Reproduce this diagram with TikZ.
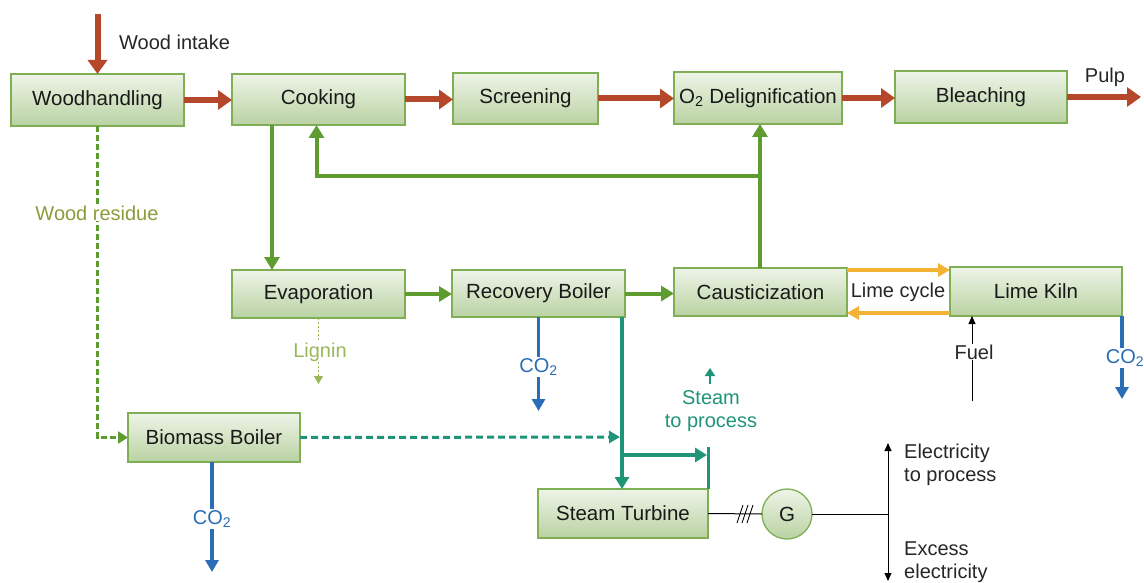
\documentclass[tikz,border=0pt]{standalone}
\usepackage{fontspec}
\setmainfont{Liberation Sans}
\usetikzlibrary{arrows.meta,calc}
\definecolor{brn}{HTML}{B5482B}
\definecolor{grn}{HTML}{5E9C2F}
\definecolor{tl}{HTML}{1F9479}
\definecolor{blu}{HTML}{2A6EB5}
\definecolor{yel}{HTML}{F2B234}
\definecolor{bord}{HTML}{7FAE55}
\definecolor{btop}{HTML}{EEF4E8}
\definecolor{bbot}{HTML}{B9D2A2}
\definecolor{olive}{HTML}{8F9A3A}
\definecolor{ligc}{HTML}{9AB85A}
\tikzset{
  x=1pt, y=-1pt,
  proc/.style={draw=bord, line width=1.3pt, top color=btop, bottom color=bbot,
    inner sep=0pt, outer sep=0pt, font=\fontsize{20.5}{22}\selectfont, text=black!90},
  lbl/.style={font=\fontsize{20}{23}\selectfont, inner sep=1pt},
  brnarrow/.style={draw=brn, line width=6pt, -{Triangle[length=14pt,width=19pt]}},
  grnarrow/.style={draw=grn, line width=4pt, -{Triangle[length=13pt,width=15pt]}},
  tlarrow/.style={draw=tl, line width=3.2pt, -{Triangle[length=12pt,width=14pt]}},
  bluarrow/.style={draw=blu, line width=3.5pt, -{Triangle[length=12pt,width=13pt]}},
  yelarrow/.style={draw=yel, line width=4pt, -{Triangle[length=12pt,width=13pt]}},
  elarrow/.style={draw=black, line width=0.9pt, -{Triangle[length=8pt,width=7pt]}},
}
\begin{document}
\begin{tikzpicture}
\useasboundingbox (0,0) rectangle (1144,583);
% process boxes
\node[proc, minimum width=173, minimum height=52] (wh) at (97.5,100) {Woodhandling};
\node[proc, minimum width=173, minimum height=51] (cook) at (318.5,99.5) {Cooking};
\node[proc, minimum width=145, minimum height=51] (scr) at (525.5,98.5) {Screening};
\node[proc, minimum width=168, minimum height=52] (o2) at (758,98) {O\textsubscript{2} Delignification};
\node[proc, minimum width=172, minimum height=52] (bl) at (981,97) {Bleaching};
\node[proc, minimum width=173, minimum height=48] (evap) at (318.5,294) {Evaporation};
\node[proc, minimum width=173, minimum height=47] (rec) at (538.5,293.5) {Recovery Boiler};
\node[proc, minimum width=173, minimum height=48] (caus) at (760.5,292) {Causticization};
\node[proc, minimum width=172, minimum height=49] (lk) at (1036,291.5) {Lime Kiln};
\node[proc, minimum width=172, minimum height=49] (bio) at (214,437.5) {Biomass Boiler};
\node[proc, minimum width=170, minimum height=49] (st) at (623,513.5) {Steam Turbine};
\node[proc, circle, minimum size=50] (G) at (787,514) {G};

% main pulp line
\coordinate (wi) at (97.5,14);
\coordinate (pulpend) at (1141,97);
\draw[brnarrow] (wi) -- (wi |- wh.north);
\node[lbl, anchor=west, text=black!85] (wil) at (118,42) {Wood intake};
\draw[brnarrow] (wh.east) -- (wh.east -| cook.west);
\draw[brnarrow] (cook.east) -- (cook.east -| scr.west);
\draw[brnarrow] (scr.east) -- (scr.east -| o2.west);
\draw[brnarrow] (o2.east) -- (o2.east -| bl.west);
\draw[brnarrow] (bl.east) -- (pulpend);
\node[lbl, text=black!85] (pulp) at (1105,77) {Pulp};

% green liquor lines
\draw[grnarrow] ($(cook.south west)+(40,0)$) -- ($(evap.north west)+(40,0)$);
\coordinate (fb) at (760,176);
\draw[grnarrow] (caus.north -| fb) -- (o2.south -| fb);
\draw[grnarrow] (fb) -| ($(cook.south)+(-2,0)$);
\draw[grnarrow] (evap.east) -- (evap.east -| rec.west);
\draw[grnarrow] (rec.east) -- (rec.east -| caus.west);

% lime cycle
\draw[yelarrow] ($(caus.north east)+(0,2)$) -- ($(caus.north east -| lk.west)+(0,2)$);
\draw[yelarrow] ($(lk.south west)+(0,-3)$) -- ($(lk.south west -| caus.east)+(0,-3)$);
\node[lbl, text=black!85] (lc) at (898,292) {Lime cycle};

% lignin
\coordinate (ligend) at (318.5,384);
\draw[draw=ligc, line width=1.2pt, dash pattern=on 2pt off 2pt, -{Triangle[length=8pt,width=9pt]}] (evap.south) -- (ligend);
\node[lbl, fill=white, text=ligc] (lig) at (320,352) {Lignin};

% CO2 outputs
\coordinate (co2a) at (538.5,411);
\draw[bluarrow] (rec.south) -- (co2a);
\node[lbl, fill=white, text=blu] at (538.5,367) {CO\textsubscript{2}};
\coordinate (co2b) at (212,572);
\draw[bluarrow] (bio.south -| co2b) -- (co2b);
\node[lbl, fill=white, text=blu] at (212,519) {CO\textsubscript{2}};
\coordinate (co2c) at (1122,399);
\draw[bluarrow] (lk.south -| co2c) -- (co2c);
\node[lbl, fill=white, text=blu] at (1125,358) {CO\textsubscript{2}};

% wood residue
\draw[draw=grn, line width=3.5pt, dash pattern=on 6pt off 3pt, -{Triangle[length=10pt,width=12pt]}] (wh.south) |- (bio.west);
\node[lbl, fill=white, text=olive] (wr) at (97,213) {Wood residue};

% steam
\coordinate (j1) at (620,437);
\draw[draw=tl, line width=3pt, dash pattern=on 7pt off 4pt, -{Triangle[length=11pt,width=12pt]}] (bio.east) -- (j1);
\coordinate (rt) at (622,317);
\draw[tlarrow] (rt) -- (rt |- st.north);
\coordinate (b1) at (622,455);
\coordinate (b2) at (707,455);
\draw[tlarrow] (b1) -- (b2);
\coordinate (sp) at (708,447);
\draw[draw=tl, line width=3pt] (sp |- st.north) -- (sp);
\coordinate (su1) at (710,384);
\coordinate (su2) at (710,368);
\draw[draw=tl, line width=2.5pt, -{Triangle[length=8pt,width=10pt]}] (su1) -- (su2);
\node[lbl, text=tl, align=center] (stl) at (711,411) {Steam\\to process};

% generator
\draw[line width=1pt] (st.east) -- (G.west);
\foreach \xx in {740,745,750}{\draw[line width=0.9pt] (\xx-3,523) -- (\xx+3,505);}
\coordinate (ej) at (888,514);
\coordinate (eu) at (888,443);
\coordinate (ed) at (888,581);
\draw[line width=1pt] (G.east) -- (ej);
\draw[elarrow] (ej) -- (eu);
\draw[elarrow] (ej) -- (ed);
\node[lbl, anchor=west, align=left, text=black!85] (el1) at (903,465) {Electricity\\to process};
\node[lbl, anchor=west, align=left, text=black!85] (el2) at (903,562) {Excess\\electricity};

% fuel
\coordinate (fu) at (972,401);
\draw[elarrow] (fu) -- (lk.south -| fu);
\node[lbl, fill=white, text=black!85] (fuel) at (974,352) {Fuel};
\end{tikzpicture}
\end{document}
